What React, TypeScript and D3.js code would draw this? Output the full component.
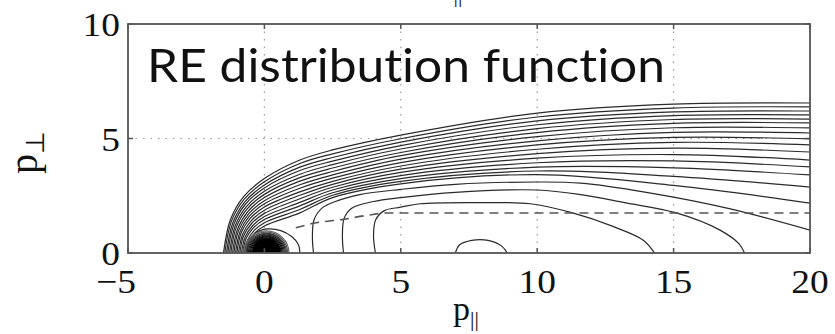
import React from "react";
import * as d3 from "d3";

// Axis extents and tick values
const xDomain = [-5, 20];
const yDomain = [0, 10];
const xTicks = [-5, 0, 5, 10, 15, 20];
const yTicks = [0, 5, 10];
const gridX = [0, 5, 10, 15];
const gridY = [5];

// Outer family of contours: foot on p_perp = 0, two points on the rising flank,
// then the level height at fixed p_par stations.
const fanFootX = [-1.5, -1.45, -1.39, -1.34, -1.28, -1.23, -1.17, -1.12, -1.06, -1.01, -0.95, -0.9, -0.84, -0.79, -0.73, -0.68];
const fanRiseAX = [-1.25, -1.21, -1.16, -1.12, -1.07, -1.03, -0.98, -0.94, -0.89, -0.85, -0.8, -0.76, -0.71, -0.67, -0.62, -0.58];
const fanRiseAY = [1.44, 1.38, 1.31, 1.25, 1.19, 1.13, 1.06, 1.0, 0.94, 0.88, 0.81, 0.75, 0.69, 0.63, 0.56, 0.5];
const fanRiseBX = [-0.77, -0.74, -0.71, -0.69, -0.66, -0.63, -0.6, -0.57, -0.55, -0.52, -0.49, -0.46, -0.43, -0.41, -0.38, -0.35];
const fanRiseBY = [2.45, 2.35, 2.24, 2.14, 2.03, 1.93, 1.82, 1.72, 1.61, 1.51, 1.4, 1.3, 1.19, 1.09, 0.98, 0.88];
const fanStations = [0, 1.3, 2.5, 5, 10, 15, 20];
const fanAt0 = [3.25, 3.11, 2.97, 2.84, 2.7, 2.56, 2.42, 2.28, 2.15, 2.01, 1.87, 1.73, 1.59, 1.46, 1.32, 1.18];
const fanAt1p3 = [4.06, 3.91, 3.75, 3.6, 3.44, 3.29, 3.14, 2.98, 2.83, 2.67, 2.52, 2.37, 2.21, 2.06, 1.9, 1.75];
const fanAt2p5 = [4.5, 4.33, 4.17, 4.01, 3.86, 3.71, 3.56, 3.41, 3.27, 3.13, 3.0, 2.87, 2.75, 2.63, 2.52, 2.42];
const fanAt5 = [5.15, 4.99, 4.84, 4.69, 4.54, 4.39, 4.25, 4.1, 3.95, 3.8, 3.66, 3.52, 3.38, 3.25, 3.13, 3.02];
const fanAt10 = [6.11, 5.94, 5.77, 5.6, 5.43, 5.26, 5.08, 4.9, 4.72, 4.53, 4.34, 4.14, 3.94, 3.75, 3.58, 3.42];
const fanAt15 = [6.5, 6.33, 6.16, 6.0, 5.83, 5.66, 5.47, 5.27, 5.05, 4.83, 4.58, 4.3, 4.02, 3.72, 3.35, 2.95];
const fanAt20 = [6.55, 6.38, 6.2, 6.03, 5.85, 5.68, 5.46, 5.24, 4.98, 4.72, 4.41, 4.06, 3.76, 3.41, 2.88, 2.18];

// Tail contours rising from p_perp = 0
const tailLevelA: [number, number][] = [[1.8, 0], [1.76, 0.7], [1.82, 1.45], [2.1, 1.95], [2.6, 2.25], [3.5, 2.55], [5, 2.78], [7, 3.0], [10, 3.1], [11.6, 3.05], [14, 2.65], [17, 1.95], [20, 1.0]];
const tailLevelB: [number, number][] = [[2.9, 0], [2.86, 0.75], [2.92, 1.5], [3.2, 1.95], [4, 2.25], [5, 2.42], [7, 2.65], [10, 2.75], [11.6, 2.55], [13.2, 2.2], [15.1, 1.75], [16.7, 1.0], [17.4, 0.4], [17.6, 0]];
const tailLevelC: [number, number][] = [[4.07, 0], [4.0, 0.75], [4.08, 1.45], [4.4, 1.85], [5, 2.0], [5.7, 2.15], [8, 2.2], [9.75, 2.15], [11.3, 1.75], [12.8, 1.15], [13.9, 0.55], [14.3, 0]];
const tailBump: [number, number][] = [[7.0, 0], [7.15, 0.35], [7.6, 0.55], [8.2, 0.55], [8.7, 0.3], [8.9, 0]];
const bulkOuter: [number, number][] = [[-0.64, 0], [-0.56, 0.5], [-0.32, 0.88], [0.1, 1.05], [0.6, 0.98], [1.0, 0.72], [1.25, 0.36], [1.3, 0]];

// Nested bulk contours around the thermal peak (innermost drawn solid)
const bulkCenter = 0.07;
const bulkCoreRx = 0.5;
const bulkCoreRy = 0.62;
const bulkRx = [0.5, 0.54, 0.58, 0.62, 0.66, 0.7, 0.74, 0.78, 0.83];
const bulkRy = [0.62, 0.66, 0.7, 0.74, 0.78, 0.82, 0.86, 0.91, 0.97];
const bulkShade = ["#000", "#000", "#050505", "#111", "#1a1a1a", "#2a2a2a", "#3a3a3a", "#555", "#666"];

// Dashed separatrix
const separatrix: [number, number][] = [[1.15, 1.1], [1.8, 1.3], [2.9, 1.47], [3.8, 1.65], [4.5, 1.75], [20, 1.75]];

const W = 835;
const H = 334;
const M = { left: 128, right: 810, top: 24, bottom: 253 };

const serif = "'Liberation Serif', 'Times New Roman', serif";

export default function App() {
  const x = d3.scaleLinear().domain(xDomain).range([M.left, M.right]);
  const y = d3.scaleLinear().domain(yDomain).range([M.bottom, M.top]);

  const curve = d3
    .line<[number, number]>()
    .x((d) => x(d[0]))
    .y((d) => y(d[1]))
    .curve(d3.curveCatmullRom.alpha(0.5));
  const mono = d3
    .line<[number, number]>()
    .x((d) => x(d[0]))
    .y((d) => y(d[1]))
    .curve(d3.curveMonotoneX);

  const stationCols = [fanAt0, fanAt1p3, fanAt2p5, fanAt5, fanAt10, fanAt15, fanAt20];
  const fanLines: [number, number][][] = fanFootX.map((fx, i) => [
    [fx, 0],
    [fanRiseAX[i], fanRiseAY[i]],
    [fanRiseBX[i], fanRiseBY[i]],
    ...fanStations.map((sx, j) => [sx, stationCols[j][i]] as [number, number]),
  ]);

  const tails = [tailLevelA, tailLevelB, tailLevelC, tailBump, bulkOuter];

  const halfEllipse = (rx: number, ry: number, close: boolean) => {
    const cx = x(bulkCenter);
    const rpx = x(bulkCenter + rx) - cx;
    const rpy = y(0) - y(ry);
    return `M${cx - rpx},${y(0)} A${rpx},${rpy} 0 0 1 ${cx + rpx},${y(0)}${close ? " Z" : ""}`;
  };
  const bulkPaths = bulkRx.map((rx, i) => halfEllipse(rx, bulkRy[i], false));

  const stroke = "#2a2a2a";
  const axisColor = "#555";

  return (
    <svg width={W} height={H} style={{ position: "absolute", left: 0, top: 0, background: "#fff" }}>
      <defs>
        <clipPath id="plotArea">
          <rect x={M.left} y={M.top} width={M.right - M.left} height={M.bottom - M.top} />
        </clipPath>
      </defs>
      <rect x={0} y={0} width={W} height={H} fill="#fff" />

      {/* grid */}
      <g stroke="#9a9a9a" strokeWidth={1.2} strokeDasharray="1.5,6">
        {gridX.map((v) => (
          <line key={"gx" + v} x1={x(v)} x2={x(v)} y1={M.top} y2={M.bottom} />
        ))}
        {gridY.map((v) => (
          <line key={"gy" + v} x1={M.left} x2={M.right} y1={y(v)} y2={y(v)} />
        ))}
      </g>

      {/* contours */}
      <g clipPath="url(#plotArea)" fill="none" stroke={stroke} strokeWidth={1.2}>
        {fanLines.map((pts, i) => (
          <path key={"f" + i} d={curve(pts) || ""} />
        ))}
        {tails.map((pts, i) => (
          <path key={"t" + i} d={curve(pts) || ""} />
        ))}
        <path d={halfEllipse(bulkCoreRx, bulkCoreRy, true)} fill="#000" stroke="#000" />
        {bulkPaths.map((d, i) => (
          <path key={"b" + i} d={d} strokeWidth={1.2} stroke={bulkShade[i]} />
        ))}
        <path d={mono(separatrix) || ""} stroke="#555" strokeWidth={1.6} strokeDasharray="9,6" />
      </g>

      {/* axes box */}
      <rect x={M.left} y={M.top} width={M.right - M.left} height={M.bottom - M.top} fill="none" stroke={axisColor} strokeWidth={1.8} />
      <g stroke={axisColor} strokeWidth={1.5}>
        {xTicks.map((v) => (
          <g key={"xt" + v}>
            <line x1={x(v)} x2={x(v)} y1={M.bottom} y2={M.bottom - 5} />
            <line x1={x(v)} x2={x(v)} y1={M.top} y2={M.top + 5} />
          </g>
        ))}
        {yTicks.map((v) => (
          <g key={"yt" + v}>
            <line x1={M.left} x2={M.left + 5} y1={y(v)} y2={y(v)} />
            <line x1={M.right} x2={M.right - 5} y1={y(v)} y2={y(v)} />
          </g>
        ))}
      </g>

      {/* tick labels */}
      <g fontFamily={serif} fontSize={34} fill="#111">
        {xTicks.map((v) => (
          <g key={"xl" + v} transform={`translate(${x(v) - (v < 0 ? 12 : 0)},${M.bottom + 40}) scale(1.1,1)`}>
            <text textAnchor="middle">{v < 0 ? "\u2212" + Math.abs(v) : String(v)}</text>
          </g>
        ))}
        {yTicks.map((v) => (
          <g key={"yl" + v} transform={`translate(${M.left - 8},${y(v) + 12}) scale(1.1,1)`}>
            <text textAnchor="end">{String(v)}</text>
          </g>
        ))}
      </g>

      {/* axis labels */}
      <text fontFamily={serif} fontSize={40} fill="#111" transform={`translate(37,${(M.top + M.bottom) / 2 + 14}) rotate(-90)`} textAnchor="middle">
        p<tspan fontSize={26} dy={7}>{"\u22A5"}</tspan>
      </text>
      <text fontFamily={serif} fontSize={34} fill="#111" x={466} y={320} textAnchor="middle">
        p<tspan fontSize={22} dy={6} fill="#111">||</tspan>
      </text>
      <text fontFamily={serif} fontSize={22} fill="#111" x={458} y={2} textAnchor="middle">||</text>

      {/* title inside the axes */}
      <text
        x={147}
        y={82}
        fontFamily="Lato, 'Open Sans', sans-serif"
        fontSize={47}
        fill="#111"
        textLength={518}
        lengthAdjust="spacingAndGlyphs"
        style={{ fontVariantLigatures: "none" }}
      >
        RE distribution function
      </text>
    </svg>
  );
}
